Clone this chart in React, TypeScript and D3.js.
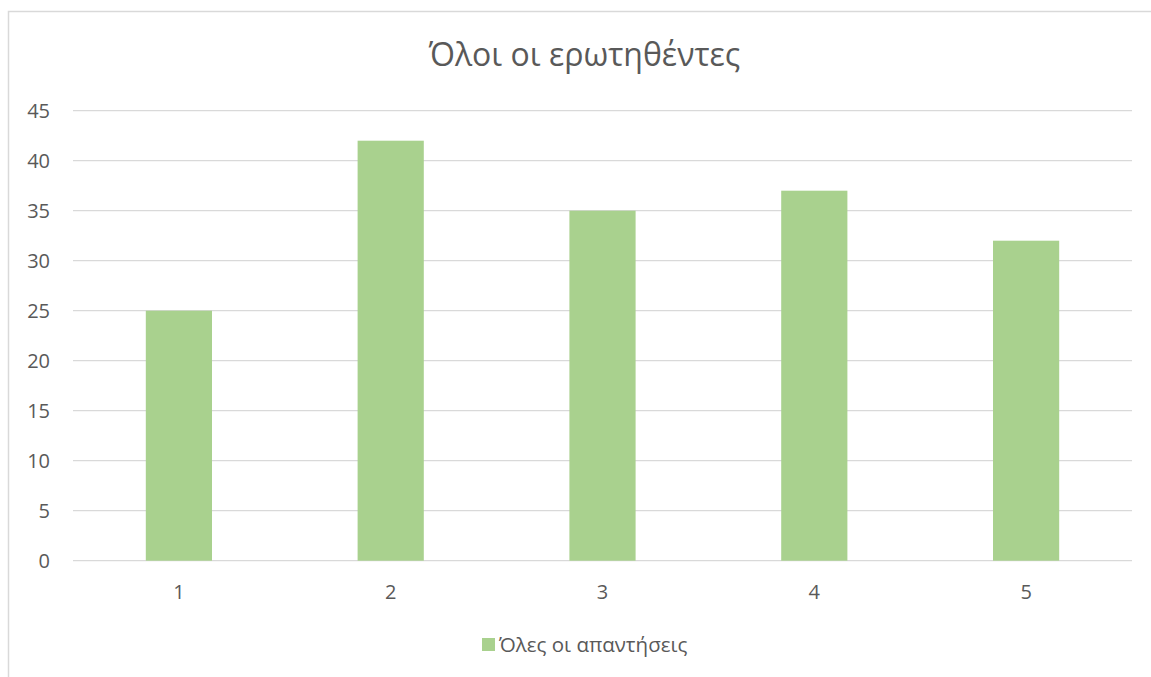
import React from "react";
import * as d3 from "d3";

const categories = ["1", "2", "3", "4", "5"];
const values = [25, 42, 35, 37, 32];
const yTicks = [0, 5, 10, 15, 20, 25, 30, 35, 40, 45];
const title = "Όλοι οι ερωτηθέντες";
const seriesName = "Όλες οι απαντήσεις";

const W = 1151;
const H = 677;
const FONT = "'Open Sans', 'Noto Sans', sans-serif";
const TEXT = "#595959";
const GRID = "#d9d9d9";
const BAR = "#a9d18e";

export default function App() {
  const left = 73;
  const right = 1132;
  const top = 110.7;
  const bottom = 560.7;
  const x = d3.scaleBand<string>().domain(categories).range([left, right]).paddingInner(0.6875).paddingOuter(0.34375);
  const y = d3.scaleLinear().domain([0, 45]).range([bottom, top]);

  return (
    <svg width={W} height={H} style={{ position: "absolute", left: 0, top: 0, fontFamily: FONT }}>
      <rect x={0} y={0} width={W} height={H} fill="#fff" />
      <path d={`M8.5,${H} V11.5 H${W}`} fill="none" stroke={GRID} strokeWidth={1.5} />
      <text x={584.5} y={66} textAnchor="middle" fontSize={32} fill={TEXT}>{title}</text>
      {yTicks.map((t) => (
        <g key={t}>
          <line x1={left} x2={right} y1={y(t)} y2={y(t)} stroke={GRID} strokeWidth={1.3} />
          <text x={50} y={y(t)} dy="0.36em" textAnchor="end" fontSize={20} fill={TEXT}>{t}</text>
        </g>
      ))}
      {categories.map((c, i) => (
        <rect key={c} x={x(c)} y={y(values[i])} width={x.bandwidth()} height={bottom - y(values[i])} fill={BAR} />
      ))}
      {categories.map((c) => (
        <text key={c} x={(x(c) as number) + x.bandwidth() / 2} y={599} textAnchor="middle" fontSize={20} fill={TEXT}>{c}</text>
      ))}
      <rect x={482} y={638} width={13} height={13} fill={BAR} />
      <text x={499} y={652} fontSize={20.5} fill={TEXT}>{seriesName}</text>
    </svg>
  );
}
